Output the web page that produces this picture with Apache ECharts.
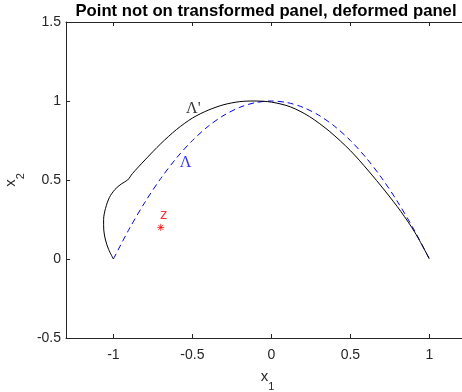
<!DOCTYPE html>
<html>
<head>
<meta charset="utf-8">
<script src="https://cdn.jsdelivr.net/npm/echarts@6/dist/echarts.min.js"></script>
<style>
  html, body { margin: 0; padding: 0; background: #ffffff; }
  #chart { width: 462px; height: 392px; }
</style>
</head>
<body>
<div id="chart"></div>
<script>
// Tick values of both axes
const xTicks = [-1, -0.5, 0, 0.5, 1];
const yTicks = [-0.5, 0, 0.5, 1, 1.5];

// Reference panel Λ (blue dashed)
const lambdaX = [-1, -0.9, -0.8, -0.7, -0.6, -0.5, -0.4, -0.3, -0.2, -0.1, 0,
                 0.1, 0.2, 0.3, 0.4, 0.5, 0.6, 0.7, 0.8, 0.9, 1];
const lambdaY = [0, 0.19, 0.36, 0.51, 0.64, 0.75, 0.84, 0.91, 0.96, 0.99, 1,
                 0.99, 0.96, 0.91, 0.84, 0.75, 0.64, 0.51, 0.36, 0.19, 0];

// Deformed panel Λ' (black solid)
const lambdaPrimeX = [-1, -1.03, -1.05, -1.061, -1.062, -1.05, -1.025, -0.99, -0.95, -0.91,
                      -0.88, -0.8, -0.7, -0.6, -0.5, -0.4, -0.3, -0.2, -0.11,
                      0, 0.12, 0.24, 0.37, 0.5, 0.61, 0.72, 0.82, 0.91, 1];
const lambdaPrimeY = [0, 0.06, 0.12, 0.184, 0.25, 0.32, 0.39, 0.44, 0.475, 0.5,
                      0.54, 0.627, 0.73, 0.82, 0.892, 0.942, 0.977, 0.996, 1,
                      0.993, 0.963, 0.902, 0.806, 0.686, 0.563, 0.43, 0.3, 0.165, 0];

// Query point z
const pointZX = [-0.7];
const pointZY = [0.2];

// Text annotations
const noteText = ["Λ'", "Λ", "z"];
const noteX = [-0.54, -0.58, -0.705];
const noteY = [0.95, 0.61, 0.28];
const noteColor = ['#000000', '#0000ff', '#ff0000'];

const AXIS = '#262626';
const xMin = -1.3, xMax = 1.25, yMin = -0.5, yMax = 1.5;
const pxPerUnit = 158;

const zip = (xs, ys) => xs.map((x, i) => [x, ys[i]]);

const chart = echarts.init(document.getElementById('chart'), null, { renderer: 'canvas' });

const FONT = '"Liberation Sans", Arial, sans-serif';
const subscriptName = {
  color: AXIS,
  rich: {
    a: { fontSize: 15, fontFamily: FONT, color: AXIS, verticalAlign: 'top', lineHeight: 16 },
    b: { fontSize: 11, fontFamily: FONT, color: AXIS, verticalAlign: 'top', lineHeight: 12, padding: [12, 0, 0, 0] }
  }
};

const baseX = {
  type: 'value',
  min: xMin,
  max: xMax,
  axisLine: { show: true, onZero: false, lineStyle: { color: AXIS, width: 1 } },
  axisTick: { show: true, inside: true, length: 4, customValues: xTicks, lineStyle: { color: AXIS } },
  splitLine: { show: false }
};

const option = {
  animation: false,
  backgroundColor: '#ffffff',
  grid: {
    left: 66,
    top: 22,
    width: (xMax - xMin) * pxPerUnit,
    height: (yMax - yMin) * pxPerUnit,
    containLabel: false,
    outerBoundsMode: 'none'
  },
  graphic: [{
    type: 'text',
    x: 266,
    y: 11,
    style: {
      text: 'Point not on transformed panel, deformed panel',
      font: 'bold 16.7px "Liberation Sans", Arial, sans-serif',
      fill: '#000000',
      textAlign: 'center',
      textVerticalAlign: 'middle'
    }
  }],
  xAxis: [
    Object.assign({}, baseX, {
      position: 'bottom',
      axisLabel: {
        show: true, customValues: xTicks, color: AXIS, fontSize: 14,
        fontFamily: FONT, margin: 10
      },
      name: '{a|x}{b|1}',
      nameLocation: 'middle',
      nameGap: 31,
      nameTextStyle: subscriptName
    }),
    Object.assign({}, baseX, {
      position: 'top',
      axisLabel: { show: false }
    })
  ],
  yAxis: {
    type: 'value',
    min: yMin,
    max: yMax,
    interval: 0.5,
    axisLine: { show: true, onZero: false, lineStyle: { color: AXIS, width: 1 } },
    axisTick: { show: true, inside: true, length: 4, lineStyle: { color: AXIS } },
    axisLabel: {
      color: AXIS, fontSize: 14, margin: 5, fontFamily: FONT,
      formatter: (v) => (yTicks.indexOf(v) >= 0 ? String(v) : '')
    },
    splitLine: { show: false },
    name: '{a|x}{b|2}',
    nameLocation: 'middle',
    nameGap: 37,
    nameTextStyle: subscriptName
  },
  series: [
    {
      name: 'Λ',
      type: 'line',
      data: zip(lambdaX, lambdaY),
      showSymbol: false,
      symbol: 'none',
      smooth: 0.3,
      lineStyle: { color: '#0000ff', width: 1, type: [6, 4] },
      z: 2
    },
    {
      name: "Λ'",
      type: 'line',
      data: zip(lambdaPrimeX, lambdaPrimeY),
      showSymbol: false,
      symbol: 'none',
      smooth: 0.3,
      lineStyle: { color: '#000000', width: 1 },
      z: 3
    },
    {
      name: 'z',
      type: 'scatter',
      data: zip(pointZX, pointZY),
      symbol: 'path://M0,-10L0,10M-10,0L10,0M-7,-7L7,7M-7,7L7,-7',
      symbolSize: 7,
      itemStyle: { color: 'rgba(0,0,0,0)', borderColor: '#ff0000', borderWidth: 1 },
      z: 4
    },
    {
      name: 'notes',
      type: 'scatter',
      symbolSize: 0,
      silent: true,
      data: noteText.map((t, i) => ({
        value: [noteX[i], noteY[i]],
        label: {
          show: true,
          position: 'right',
          distance: 0,
          formatter: t,
          color: noteColor[i],
          fontSize: i === 2 ? 15 : 16,
          fontFamily: i === 2 ? FONT : '"Liberation Serif", "Times New Roman", serif'
        }
      })),
      z: 5
    }
  ]
};

chart.setOption(option);
</script>
</body>
</html>
